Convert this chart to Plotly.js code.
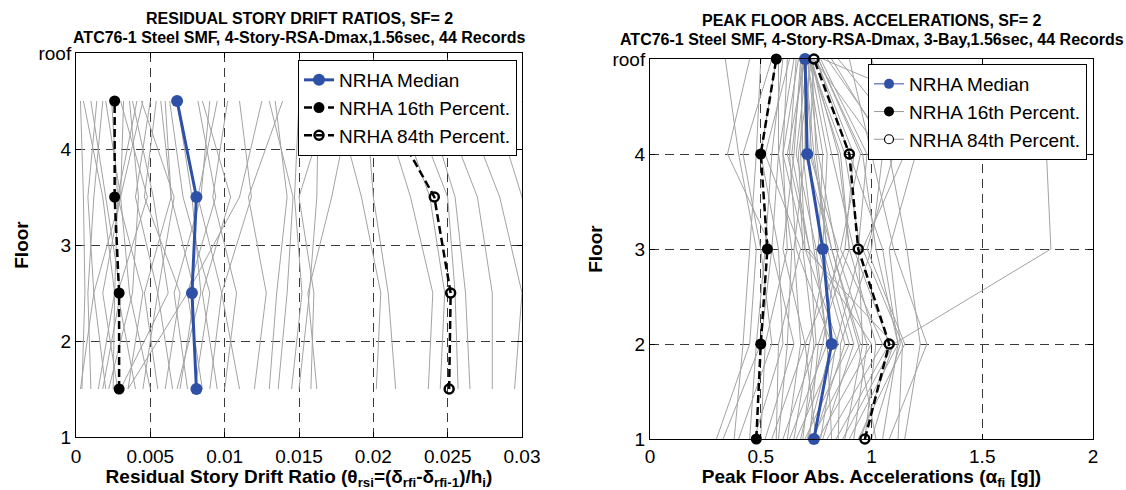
<!DOCTYPE html>
<html>
<head>
<meta charset="utf-8">
<script src="https://cdn.plot.ly/plotly-3.0.1.min.js"></script>
<style>html,body{margin:0;padding:0;background:#fff;}#chart{width:1126px;height:490px;}</style>
</head>
<body>
<div id="chart"></div>
<script>
// ---------------- LEFT: residual story drift ratios (values at story mid-heights) ----------------
const storyLevels = [1.5, 2.5, 3.5, 4.5];
const driftTickVals = [0, 0.005, 0.01, 0.015, 0.02, 0.025, 0.03];
const driftTickText = ['0', '0.005', '0.01', '0.015', '0.02', '0.025', '0.03'];
const floorTickVals = [1, 2, 3, 4, 5];
const floorTickText = ['1', '2', '3', '4', 'roof'];

// 44 records, one value per story
const driftStory1 = [0.0004,0.0010,0.0015,0.0003,0.0020,0.0028,0.0035,0.0040,0.0022,0.0045,0.0050,0.0030,0.0055,0.0060,0.0065,0.0035,0.0070,0.0075,0.0080,0.0085,0.0090,0.0095,0.0100,0.0110,0.0120,0.0130,0.0136,0.0145,0.0150,0.0158,0.0162,0.0202,0.0215,0.0237,0.0245,0.0257,0.0265,0.0280,0.0295,0.0310,0.0330,0.0025,0.0068,0.0018];
const driftStory2 = [0.0006,0.0008,0.0026,0.0012,0.0012,0.0018,0.0045,0.0028,0.0038,0.0055,0.0036,0.0062,0.0046,0.0070,0.0055,0.0075,0.0080,0.0066,0.0090,0.0075,0.0098,0.0085,0.0108,0.0098,0.0128,0.0135,0.0142,0.0152,0.0157,0.0160,0.0156,0.0205,0.0210,0.0240,0.0248,0.0255,0.0262,0.0280,0.0300,0.0310,0.0325,0.0026,0.0084,0.0030];
const driftStory3 = [0.0005,0.0012,0.0018,0.0030,0.0008,0.0030,0.0028,0.0048,0.0042,0.0040,0.0030,0.0052,0.0064,0.0046,0.0066,0.0110,0.0064,0.0084,0.0072,0.0094,0.0082,0.0104,0.0092,0.0118,0.0116,0.0142,0.0146,0.0147,0.0162,0.0150,0.0172,0.0192,0.0200,0.0225,0.0238,0.0250,0.0255,0.0270,0.0285,0.0300,0.0320,0.0028,0.0078,0.0020];
const driftStory4 = [0.0003,0.0018,0.0005,0.0045,0.0014,0.0020,0.0041,0.0030,0.0036,0.0050,0.0032,0.0038,0.0057,0.0054,0.0044,0.0125,0.0060,0.0090,0.0063,0.0082,0.0095,0.0085,0.0102,0.0110,0.0139,0.0134,0.0130,0.0150,0.0163,0.0170,0.0185,0.0175,0.0195,0.0205,0.0215,0.0225,0.0235,0.0245,0.0260,0.0280,0.0300,0.0024,0.0068,0.0010];

const driftMedian = [0.0081, 0.0078, 0.0081, 0.0068];
const drift16 = [0.0029, 0.0029, 0.0026, 0.0026];
const drift84 = [0.0251, 0.0252, 0.0241, 0.0205];

// ---------------- RIGHT: peak floor absolute accelerations ----------------
const floorLevels = [1, 2, 3, 4, 5];
const accTickVals = [0, 0.5, 1, 1.5, 2];
const accTickText = ['0', '0.5', '1', '1.5', '2'];

const accFloor1 = [0.30,0.33,0.38,0.40,0.45,0.47,0.50,0.52,0.55,0.57,0.60,0.62,0.63,0.65,0.66,0.68,0.70,0.71,0.72,0.73,0.74,0.75,0.76,0.77,0.78,0.80,0.82,0.84,0.85,0.87,0.88,0.90,0.92,0.94,0.95,0.97,1.00,1.02,1.05,1.08,1.12,1.15,0.58,0.69];
const accFloor2 = [0.45,0.50,0.42,0.55,0.48,0.60,0.52,0.65,0.70,0.58,0.75,0.68,0.80,0.72,0.85,0.78,0.90,0.82,0.76,0.95,0.88,0.70,1.00,0.84,0.92,1.05,0.80,1.08,0.86,1.10,0.96,1.12,0.98,1.15,1.10,1.02,1.13,0.94,1.12,1.25,1.14,1.22,0.62,0.74];
const accFloor3 = [0.48,0.55,0.45,0.50,0.52,0.58,0.62,0.55,0.60,0.68,0.72,0.65,0.75,0.80,0.70,0.85,0.78,0.66,0.90,0.82,0.76,0.88,0.72,0.95,0.80,0.86,0.74,0.92,1.00,0.70,0.94,1.05,0.84,0.98,1.81,0.90,1.08,0.82,1.02,1.10,0.96,1.16,0.64,0.69];
const accFloor4 = [0.40,0.35,0.48,0.42,0.55,0.50,0.60,0.58,0.65,0.52,0.62,0.70,0.66,0.75,0.68,0.72,0.80,0.63,0.85,0.70,0.78,0.92,0.64,0.88,0.74,0.95,0.69,0.82,1.05,0.60,0.98,0.90,0.76,1.10,1.79,0.86,1.20,0.73,0.96,1.00,1.15,1.08,0.58,0.67];
const accFloor5 = [0.34,0.45,0.50,0.55,0.60,0.57,0.62,0.65,0.68,0.63,0.70,0.72,0.71,0.73,0.69,0.74,0.72,0.66,0.73,0.70,0.71,0.75,0.69,0.72,0.70,0.76,0.68,0.73,0.74,0.67,0.77,0.75,0.71,0.80,0.78,0.72,0.85,0.70,0.76,0.90,1.00,0.82,0.58,0.73];

const accMedian = [0.74, 0.82, 0.78, 0.71, 0.70];
const acc16 = [0.48, 0.50, 0.53, 0.50, 0.57];
const acc84 = [0.97, 1.08, 0.94, 0.90, 0.74];

// ---------------- build traces ----------------
const FONT = 'Liberation Sans, Arial, Helvetica, sans-serif';
const BLUE = '#2E50A6';
const GRAY = '#A3A3A3';
const traces = [];

function grayRecords(cols, levels, xa, ya) {
  const n = cols[0].length;
  for (let i = 0; i < n; i++) {
    traces.push({
      type: 'scatter', mode: 'lines', xaxis: xa, yaxis: ya,
      x: cols.map(c => c[i]), y: levels,
      line: {color: GRAY, width: 1}, showlegend: false, hoverinfo: 'skip'
    });
  }
}
grayRecords([driftStory1, driftStory2, driftStory3, driftStory4], storyLevels, 'x', 'y');
grayRecords([accFloor1, accFloor2, accFloor3, accFloor4, accFloor5], floorLevels, 'x2', 'y2');

// left percentile lines (in legend 1)
traces.push({type:'scatter', mode:'lines+markers', x: driftMedian, y: storyLevels, xaxis:'x', yaxis:'y',
  name:'NRHA Median', legend:'legend', cliponaxis:false,
  line:{color:BLUE, width:3}, marker:{color:BLUE, size:12, symbol:'circle'}});
traces.push({type:'scatter', mode:'lines+markers', x: drift16, y: storyLevels, xaxis:'x', yaxis:'y',
  name:'NRHA 16th Percent.', legend:'legend', cliponaxis:false,
  line:{color:'#000', width:2.5, dash:'8px,4px'}, marker:{color:'#000', size:11, symbol:'circle'}});
traces.push({type:'scatter', mode:'lines+markers', x: drift84, y: storyLevels, xaxis:'x', yaxis:'y',
  name:'NRHA 84th Percent.', legend:'legend', cliponaxis:false,
  line:{color:'#000', width:2.5, dash:'8px,4px'}, marker:{color:'#000', size:9, symbol:'circle-open', line:{color:'#000', width:2.5}}});

// right percentile lines (not in legend)
traces.push({type:'scatter', mode:'lines+markers', x: accMedian, y: floorLevels, xaxis:'x2', yaxis:'y2',
  showlegend:false, cliponaxis:false,
  line:{color:BLUE, width:3}, marker:{color:BLUE, size:12}});
traces.push({type:'scatter', mode:'lines+markers', x: acc16, y: floorLevels, xaxis:'x2', yaxis:'y2',
  showlegend:false, cliponaxis:false,
  line:{color:'#000', width:2.5, dash:'8px,4px'}, marker:{color:'#000', size:11}});
traces.push({type:'scatter', mode:'lines+markers', x: acc84, y: floorLevels, xaxis:'x2', yaxis:'y2',
  showlegend:false, cliponaxis:false,
  line:{color:'#000', width:2.5, dash:'8px,4px'}, marker:{color:'#000', size:9, symbol:'circle-open', line:{color:'#000', width:2.5}}});

// right legend entries (thin samples, as in the reference)
traces.push({type:'scatter', mode:'lines+markers', x:[null], y:[null], xaxis:'x2', yaxis:'y2',
  name:'NRHA Median', legend:'legend2', line:{color:BLUE, width:1}, marker:{color:BLUE, size:10}});
traces.push({type:'scatter', mode:'lines+markers', x:[null], y:[null], xaxis:'x2', yaxis:'y2',
  name:'NRHA 16th Percent.', legend:'legend2', line:{color:'#999', width:1}, marker:{color:'#000', size:10}});
traces.push({type:'scatter', mode:'lines+markers', x:[null], y:[null], xaxis:'x2', yaxis:'y2',
  name:'NRHA 84th Percent.', legend:'legend2', line:{color:'#999', width:1}, marker:{color:'#fff', size:9, line:{color:'#000', width:1.2}}});

// ---------------- layout ----------------
const W = 1126, H = 490;
const px = v => v / W;
const py = v => (H - v) / H;

const axisCommon = {
  showline: true, mirror: 'ticks', linecolor: '#000', linewidth: 1,
  ticks: 'inside', ticklen: 5, tickcolor: '#000', tickwidth: 1,
  showgrid: true, gridcolor: '#3a3a3a', gridwidth: 1, griddash: '9px,6px',
  zeroline: false, tickmode: 'array', fixedrange: true,
  tickfont: {family: FONT, size: 19, color: '#000'}
};
const titleFont = {family: FONT, size: 19, color: '#000'};

const layout = {
  width: W, height: H,
  margin: {l: 0, r: 0, t: 0, b: 0},
  paper_bgcolor: '#fff', plot_bgcolor: '#fff',
  font: {family: FONT, color: '#000'},
  xaxis: Object.assign({}, axisCommon, {
    domain: [px(76), px(522)], anchor: 'y', range: [0, 0.03],
    tickvals: driftTickVals, ticktext: driftTickText, ticklabelstandoff: 2,
    title: {text: '<b>Residual Story Drift Ratio (θ<sub>rsi</sub>=(δ<sub>rfi</sub>-δ<sub>rfi-1</sub>)/h<sub>i</sub>)</b>',
            font: titleFont, standoff: 6}
  }),
  yaxis: Object.assign({}, axisCommon, {
    domain: [py(437), py(53)], anchor: 'x', range: [1, 5],
    tickvals: floorTickVals, ticktext: floorTickText,
    title: {text: '<b>Floor</b>', font: titleFont, standoff: 4}
  }),
  xaxis2: Object.assign({}, axisCommon, {
    domain: [px(650), px(1093)], anchor: 'y2', range: [0, 2],
    tickvals: accTickVals, ticktext: accTickText, ticklabelstandoff: 0,
    title: {text: '<b>Peak Floor Abs. Accelerations (α<sub>fi</sub> [g])</b>',
            font: titleFont, standoff: 6}
  }),
  yaxis2: Object.assign({}, axisCommon, {
    domain: [py(439), py(59)], anchor: 'x2', range: [1, 5],
    tickvals: floorTickVals, ticktext: floorTickText,
    title: {text: '<b>Floor</b>', font: titleFont, standoff: 4}
  }),
  legend: {
    x: px(517), xanchor: 'right', y: py(60), yanchor: 'top',
    bgcolor: '#fff', bordercolor: '#000', borderwidth: 1,
    font: {family: FONT, size: 19, color: '#000'}
  },
  legend2: {
    x: px(1087), xanchor: 'right', y: py(64), yanchor: 'top',
    bgcolor: '#fff', bordercolor: '#000', borderwidth: 1,
    font: {family: FONT, size: 19, color: '#000'}
  },
  annotations: [
    {text: '<b>RESIDUAL STORY DRIFT RATIOS, SF= 2</b>', xref: 'paper', yref: 'paper',
     x: px(299), y: py(18), xanchor: 'center', yanchor: 'middle', showarrow: false,
     font: {family: FONT, size: 16, color: '#000'}},
    {text: '<b>ATC76-1 Steel SMF, 4-Story-RSA-Dmax,1.56sec, 44 Records</b>', xref: 'paper', yref: 'paper',
     x: px(299), y: py(37), xanchor: 'center', yanchor: 'middle', showarrow: false,
     font: {family: FONT, size: 16, color: '#000'}},
    {text: '<b>PEAK FLOOR ABS. ACCELERATIONS, SF= 2</b>', xref: 'paper', yref: 'paper',
     x: px(871.5), y: py(21), xanchor: 'center', yanchor: 'middle', showarrow: false,
     font: {family: FONT, size: 16, color: '#000'}},
    {text: '<b>ATC76-1 Steel SMF, 4-Story-RSA-Dmax, 3-Bay,1.56sec, 44 Records</b>', xref: 'paper', yref: 'paper',
     x: px(871.5), y: py(40), xanchor: 'center', yanchor: 'middle', showarrow: false,
     font: {family: FONT, size: 16, color: '#000'}}
  ],
  showlegend: true
};

Plotly.newPlot('chart', traces, layout, {staticPlot: true, displayModeBar: false});
</script>
</body>
</html>
